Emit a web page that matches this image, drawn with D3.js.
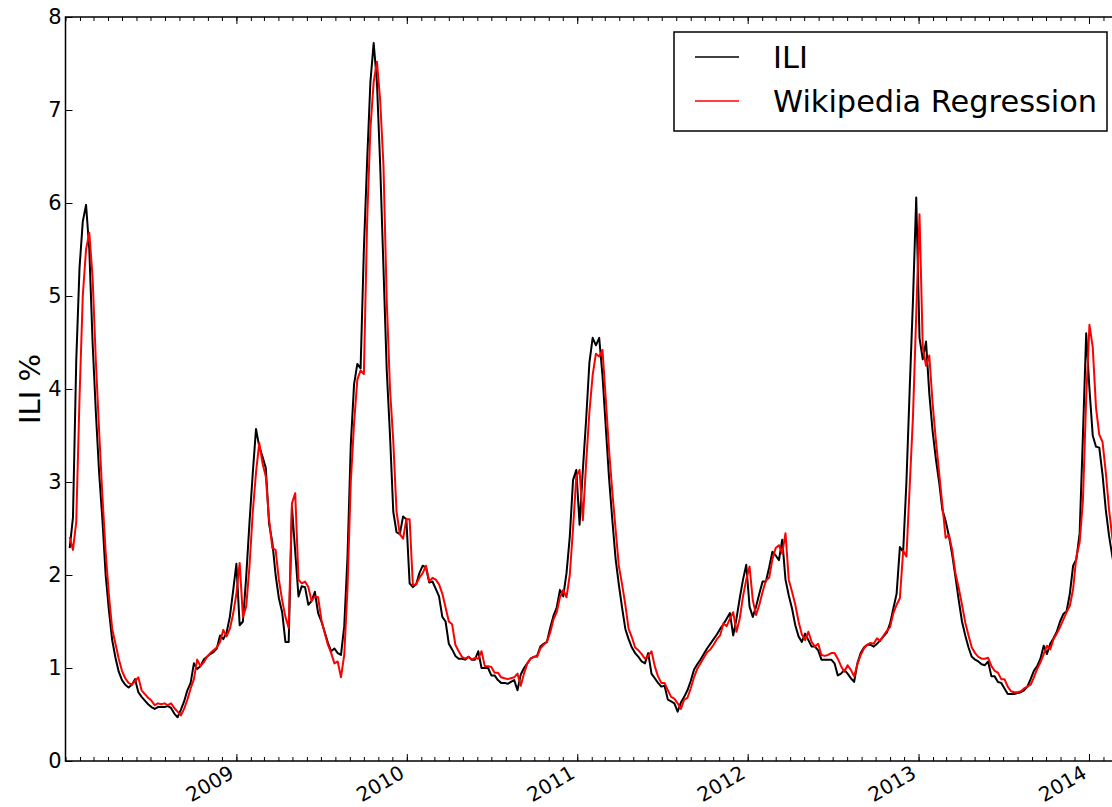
<!DOCTYPE html>
<html>
<head>
<meta charset="utf-8">
<script src="https://cdn.jsdelivr.net/npm/d3@7"></script>
<style>
  body { margin: 0; background: #fff; }
  text { font-family: "DejaVu Sans", sans-serif; }
</style>
</head>
<body>
<svg id="chart" width="1112" height="807"></svg>
<script>
// weekly series, first week ending 2008-01-10
const startDate = new Date(2008, 0, 10);

const iliValues = [
  2.29, 2.62, 4.3, 5.3, 5.8, 5.98, 5.5, 4.5, 3.75, 3.1,
  2.6, 2.0, 1.62, 1.3, 1.11, 0.96, 0.87, 0.82, 0.79, 0.82,
  0.88, 0.74, 0.69, 0.65, 0.61, 0.58, 0.56, 0.58, 0.58, 0.58,
  0.59, 0.57, 0.51, 0.47, 0.55, 0.64, 0.76, 0.84, 1.05, 0.99,
  1.02, 1.09, 1.12, 1.15, 1.17, 1.21, 1.35, 1.31, 1.38, 1.55,
  1.83, 2.12, 1.46, 1.50, 1.98, 2.56, 3.09, 3.57, 3.38, 3.27,
  3.15, 2.55, 2.35, 2.0, 1.75, 1.6, 1.28, 1.28, 2.73, 2.25,
  1.77, 1.88, 1.87, 1.68, 1.72, 1.82, 1.59, 1.50, 1.39, 1.27,
  1.18, 1.21, 1.16, 1.14, 1.45, 2.2, 3.4, 4.05, 4.27, 4.22,
  5.5, 6.45, 7.3, 7.72, 7.3, 6.4, 5.3, 4.2, 3.5, 2.68,
  2.46, 2.44, 2.63, 2.60, 1.91, 1.87, 1.90, 2.02, 2.10, 2.08,
  1.92, 1.93, 1.85, 1.77, 1.55, 1.50, 1.26, 1.20, 1.13, 1.10,
  1.10, 1.09, 1.12, 1.09, 1.09, 1.18, 1.00, 1.00, 1.00, 0.92,
  0.92, 0.87, 0.84, 0.84, 0.83, 0.85, 0.87, 0.76, 0.93, 1.00,
  1.05, 1.10, 1.12, 1.13, 1.23, 1.26, 1.28, 1.43, 1.56, 1.65,
  1.84, 1.77, 2.02, 2.41, 3.02, 3.13, 2.54, 3.13, 3.67, 4.28,
  4.55, 4.47, 4.55, 4.15, 3.6, 3.05, 2.6, 2.18, 1.9, 1.65,
  1.42, 1.31, 1.22, 1.16, 1.12, 1.07, 1.05, 1.16, 0.94, 0.89,
  0.84, 0.80, 0.81, 0.66, 0.64, 0.62, 0.53, 0.63, 0.69, 0.76,
  0.86, 0.98, 1.04, 1.09, 1.15, 1.21, 1.26, 1.31, 1.36, 1.42,
  1.47, 1.53, 1.59, 1.35, 1.53, 1.75, 1.95, 2.11, 1.66, 1.55,
  1.66, 1.80, 1.93, 1.93, 2.08, 2.25, 2.21, 2.16, 2.38, 1.95,
  1.78, 1.64, 1.46, 1.34, 1.28, 1.37, 1.30, 1.23, 1.23, 1.19,
  1.09, 1.09, 1.09, 1.09, 1.05, 0.92, 0.94, 0.98, 0.94, 0.89,
  0.85, 1.05, 1.16, 1.22, 1.25, 1.25, 1.23, 1.26, 1.30, 1.34,
  1.38, 1.48, 1.64, 1.80, 2.30, 2.25, 3.0, 4.0, 4.95, 6.06,
  4.55, 4.32, 4.51, 3.95, 3.55, 3.25, 3.0, 2.7, 2.58, 2.42,
  2.22, 1.98, 1.73, 1.5, 1.35, 1.22, 1.12, 1.09, 1.07, 1.04,
  1.03, 1.07, 0.91, 0.91, 0.85, 0.84, 0.78, 0.72, 0.72, 0.72,
  0.73, 0.74, 0.76, 0.80, 0.88, 0.97, 1.02, 1.10, 1.24, 1.15,
  1.26, 1.32, 1.39, 1.50, 1.58, 1.61, 1.80, 2.10, 2.17, 2.45,
  3.5, 4.60, 4.0, 3.50, 3.38, 3.37, 3.08, 2.7, 2.42, 2.2, 2.0
];

const wikiValues = [
  2.41, 2.27, 2.57, 3.9, 5.0, 5.5, 5.68, 5.2, 4.3, 3.55,
  2.85, 2.25, 1.78, 1.42, 1.26, 1.1, 0.97, 0.89, 0.84, 0.82,
  0.86, 0.90, 0.76, 0.72, 0.68, 0.65, 0.60, 0.62, 0.61, 0.62,
  0.60, 0.62, 0.57, 0.53, 0.49, 0.56, 0.66, 0.78, 0.88, 1.09,
  1.02, 1.06, 1.12, 1.16, 1.19, 1.22, 1.28, 1.41, 1.34, 1.42,
  1.58, 1.8, 2.13, 1.55, 1.66, 2.09, 2.67, 3.1, 3.42, 3.2,
  3.06, 2.6, 2.29, 2.27, 1.95, 1.73, 1.55, 1.43, 2.77, 2.88,
  1.95, 1.91, 1.93, 1.87, 1.72, 1.77, 1.76, 1.52, 1.38, 1.25,
  1.16, 1.05, 1.07, 0.90, 1.14, 1.86, 3.0, 3.63, 4.1, 4.2,
  4.16, 5.8, 6.8, 7.3, 7.52, 7.1, 6.4, 4.95, 4.0, 3.44,
  2.68, 2.44, 2.39, 2.60, 2.60, 1.89, 1.90, 1.97, 2.02, 2.10,
  1.93, 1.97, 1.95, 1.90, 1.80, 1.65, 1.50, 1.47, 1.25, 1.18,
  1.12, 1.10, 1.12, 1.09, 1.11, 1.10, 1.18, 1.02, 1.02, 1.01,
  0.95, 0.95, 0.90, 0.89, 0.88, 0.89, 0.90, 0.94, 0.81, 0.94,
  1.05, 1.10, 1.12, 1.12, 1.21, 1.25, 1.28, 1.38, 1.52, 1.60,
  1.76, 1.84, 1.76, 2.0, 2.5, 3.06, 3.13, 2.59, 3.2, 3.75,
  4.15, 4.38, 4.35, 4.42, 3.9, 3.35, 2.9, 2.5, 2.1, 1.9,
  1.68, 1.42, 1.33, 1.22, 1.19, 1.15, 1.10, 1.13, 1.18, 1.02,
  0.91, 0.84, 0.84, 0.76, 0.69, 0.67, 0.62, 0.56, 0.66, 0.68,
  0.78, 0.9, 0.99, 1.05, 1.11, 1.17, 1.20, 1.25, 1.31, 1.35,
  1.48, 1.45, 1.53, 1.60, 1.39, 1.53, 1.77, 1.95, 2.09, 1.73,
  1.57, 1.68, 1.82, 1.94, 1.97, 2.17, 2.29, 2.32, 2.23, 2.45,
  1.95, 1.82, 1.68, 1.50, 1.36, 1.30, 1.39, 1.28, 1.23, 1.26,
  1.14, 1.13, 1.14, 1.16, 1.16, 1.10, 1.02, 0.96, 1.03, 0.98,
  0.91, 1.04, 1.14, 1.21, 1.25, 1.27, 1.26, 1.32, 1.29, 1.35,
  1.40, 1.44, 1.59, 1.68, 1.75, 2.26, 2.20, 2.95, 3.7, 4.8,
  5.88, 4.45, 4.25, 4.36, 3.85, 3.45, 3.1, 2.75, 2.40, 2.43,
  2.27, 2.02, 1.86, 1.68, 1.49, 1.35, 1.22, 1.16, 1.12, 1.10,
  1.10, 1.11, 1.02, 0.97, 0.95, 0.88, 0.88, 0.80, 0.75, 0.74,
  0.74, 0.75, 0.78, 0.80, 0.82, 0.90, 0.99, 1.06, 1.15, 1.24,
  1.20, 1.31, 1.37, 1.44, 1.52, 1.60, 1.67, 1.85, 2.2, 2.35,
  2.8, 3.9, 4.69, 4.45, 3.8, 3.51, 3.43, 3.1, 2.7, 2.4, 2.2
];

const yTicks = [0, 1, 2, 3, 4, 5, 6, 7, 8];
const seriesNames = ['ILI', 'Wikipedia Regression'];
const seriesColors = ['#000000', '#ff0000'];

const svg = d3.select('#chart');
const plotTop = 17, plotBottom = 761, plotLeft = 65.5, plotRight = 1159.5;

const x = d3.scaleTime()
  .domain([new Date(2008, 0, 1), new Date(2014, 5, 1)])
  .range([plotLeft, plotRight]);
const y = d3.scaleLinear().domain([0, 8]).range([plotBottom, plotTop]);

const weeks = iliValues.map((v, i) => d3.timeDay.offset(startDate, 7 * i));
const series = [iliValues, wikiValues].map((vals, k) => ({
  name: seriesNames[k],
  color: seriesColors[k],
  points: vals.map((v, i) => ({ date: weeks[i], value: v }))
}));

svg.append('defs').append('clipPath').attr('id', 'plot-clip')
  .append('rect').attr('x', plotLeft).attr('y', plotTop)
  .attr('width', plotRight - plotLeft).attr('height', plotBottom - plotTop);

const line = d3.line().x(d => x(d.date)).y(d => y(d.value));

svg.append('g').attr('clip-path', 'url(#plot-clip)')
  .selectAll('path').data(series).join('path')
  .attr('d', d => line(d.points))
  .attr('fill', 'none')
  .attr('stroke', d => d.color)
  .attr('stroke-width', 2)
  .attr('stroke-linejoin', 'round');

// frame
svg.append('rect')
  .attr('x', plotLeft).attr('y', plotTop)
  .attr('width', plotRight - plotLeft).attr('height', plotBottom - plotTop)
  .attr('fill', 'none').attr('stroke', '#000').attr('stroke-width', 1.5);

// ticks, pointing inward like matplotlib
const months = x.ticks(d3.timeMonth.every(1));
const years = x.ticks(d3.timeYear.every(1)).filter(d => d.getFullYear() >= 2009);

function tickAxis(axis, pos, values, size) {
  const g = svg.append('g').attr('transform', pos)
    .call(axis(x).tickValues(values).tickSize(size).tickFormat(''));
  g.select('.domain').remove();
  g.selectAll('line').attr('stroke-width', 1);
}
tickAxis(d3.axisBottom, `translate(0,${plotBottom})`, months, -4);
tickAxis(d3.axisBottom, `translate(0,${plotBottom})`, years, -7);
tickAxis(d3.axisTop, `translate(0,${plotTop})`, months, -4);
tickAxis(d3.axisTop, `translate(0,${plotTop})`, years, -7);

const yAxis = svg.append('g').attr('transform', `translate(${plotLeft},0)`)
  .call(d3.axisLeft(y).tickValues(yTicks).tickSize(-7).tickPadding(4).tickFormat(d3.format('d')));
yAxis.select('.domain').remove();
yAxis.selectAll('line').attr('stroke-width', 1);
yAxis.selectAll('text').attr('font-size', 21).attr('fill', '#000')
  .style('font-family', '"DejaVu Sans", sans-serif');

// rotated year labels
svg.append('g').selectAll('text').data(years).join('text')
  .attr('transform', d => `translate(${x(d) - 1},${plotBottom + 16}) rotate(-30)`)
  .attr('text-anchor', 'end')
  .attr('font-size', 20)
  .text(d => d3.timeFormat('%Y')(d));

// y label
svg.append('text')
  .attr('transform', `translate(40,389) rotate(-90)`)
  .attr('text-anchor', 'middle')
  .attr('font-size', 29)
  .text('ILI %');

// legend
const legend = svg.append('g');
legend.append('rect')
  .attr('x', 674).attr('y', 32).attr('width', 433).attr('height', 99)
  .attr('fill', '#fff').attr('stroke', '#000').attr('stroke-width', 1.5);
const items = legend.selectAll('g.item').data(series).join('g')
  .attr('class', 'item')
  .attr('transform', (d, i) => `translate(0,${57 + i * 44})`);
items.append('line')
  .attr('x1', 695).attr('x2', 739)
  .attr('stroke', d => d.color).attr('stroke-width', 1.5);
items.append('text')
  .attr('x', 773).attr('y', 11)
  .attr('font-size', 30.4)
  .text(d => d.name);
</script>
</body>
</html>
